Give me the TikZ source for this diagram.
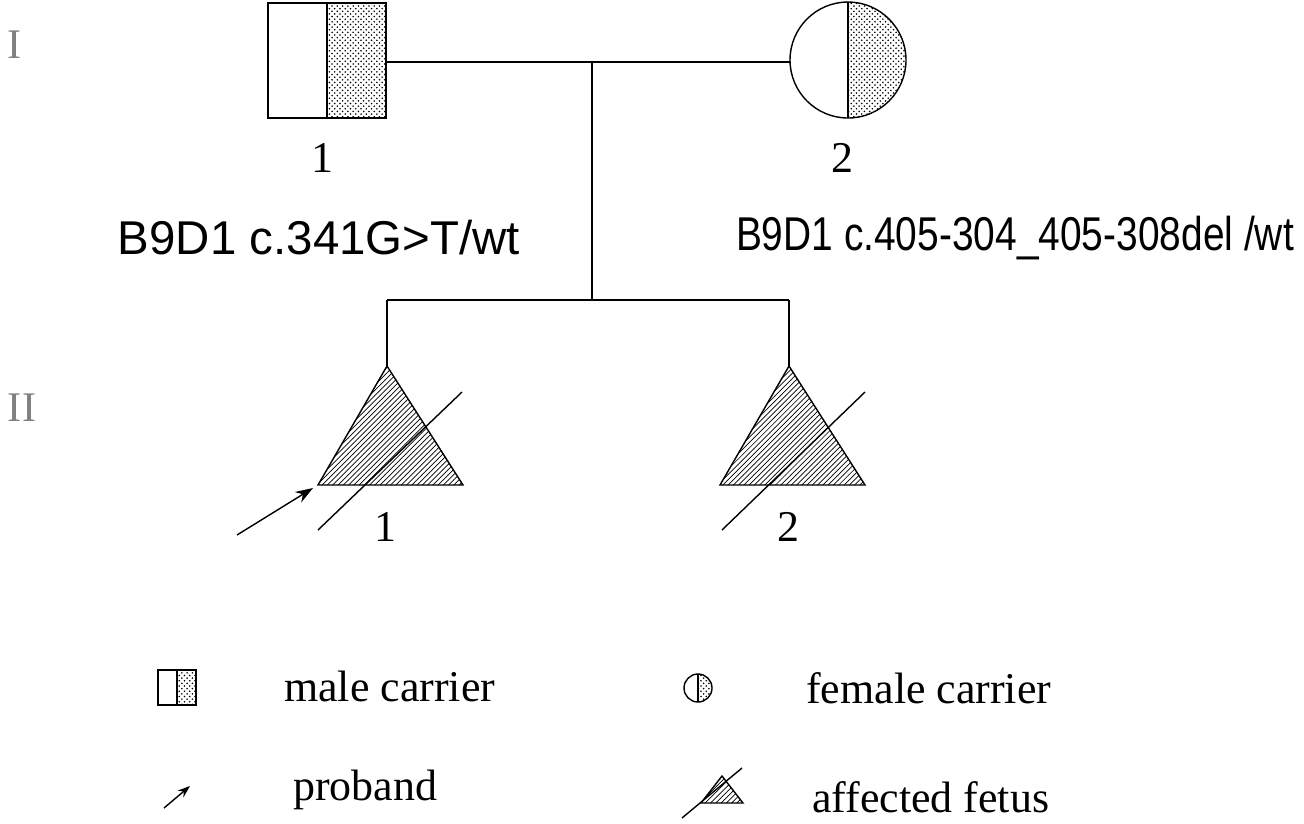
\documentclass[tikz,border=0pt]{standalone}
\usepackage{fontspec}
\usepackage{graphicx}
\setmainfont{Liberation Serif}
\newfontfamily\lsans{Liberation Sans}
\usetikzlibrary{patterns,arrows.meta}
\begin{document}
\begin{tikzpicture}[x=0.02cm,y=-0.02cm,
  ln/.style={line width=1.6pt},
  thin/.style={line width=0.8pt},
  dotfill/.style={pattern=crosshatch dots},
  hatch/.style={pattern=north east lines},
  num/.style={font=\fontsize{25}{27}\selectfont},
  gen/.style={font=\fontsize{24}{26}\selectfont,text=gray},
  geno/.style={font=\lsans\fontsize{27}{29}\selectfont},
  leg/.style={font=\fontsize{25}{27}\selectfont,anchor=west}]
\useasboundingbox (0,0) rectangle (1304,823);
\node[gen] (gI) at (15,45) {I};
\node[gen] (gII) at (22,408) {II};
% father
\path[dotfill] (327,3) rectangle (386,118);
\draw[thin] (268,3) rectangle (386,118);
\draw[thin] (327,3) -- (327,118);
\coordinate (fR) at (386,62);
% mother
\begin{scope}
\clip (848,0) rectangle (910,122);
\path[dotfill] (848,60) circle[radius=58];
\end{scope}
\draw[thin] (848,60) circle[radius=58];
\draw[thin] (848,2) -- (848,118);
\coordinate (mL) at (790,62);
\draw[ln] (fR) -- (mL);
\coordinate (m) at (592,62);
\coordinate (s) at (592,300);
\draw[ln] (m) -- (s);
\coordinate (c1) at (387,300);
\coordinate (c2) at (789,300);
\draw[ln] (c1) -- (c2);
\coordinate (t1) at (387,366);
\coordinate (t2) at (789,366);
\draw[ln] (c1) -- (t1);
\draw[ln] (c2) -- (t2);
% triangles
\draw[thin,hatch] (t1) -- (463,485) -- (318,485) -- cycle;
\draw[thin] (318,530) -- (462,392);
\draw[thin,hatch] (t2) -- (865,485) -- (720,485) -- cycle;
\draw[thin] (722,530) -- (865,392);
\draw[thin,-{Stealth[length=10pt,width=7pt]}] (237,535) -- (313,488);
% labels
\node[num] (n1) at (322,158) {1};
\node[num] (n2) at (842,158) {2};
\node[num] (n3) at (385,527) {1};
\node[num] (n4) at (788,527) {2};
\node[geno] (g1) at (319,238) {B9D1 c.341G>T/wt};
\node[geno] (g2) at (1015,238) {\scalebox{0.82}[1]{B9D1 c.405-304\_405-308del /wt}};
% legend
\path[dotfill] (177,670) rectangle (196,705);
\draw[thin] (158,670) rectangle (196,705);
\draw[thin] (177,670) -- (177,705);
\node[leg] (l1) at (278,686) {male carrier};
\begin{scope}
\clip (698,670) rectangle (715,706);
\path[dotfill] (698,688) circle[radius=14];
\end{scope}
\draw[thin] (698,688) circle[radius=14];
\draw[thin] (698,674) -- (698,702);
\node[leg] (l2) at (800,688) {female carrier};
\draw[thin,-{Stealth[length=7pt,width=5pt]}] (164,808) -- (190,786);
\node[leg] (l3) at (287,790) {proband};
\draw[thin,hatch] (722,776) -- (743,803) -- (701,803) -- cycle;
\draw[thin] (682,818) -- (742,768);
\node[leg] (l4) at (806,797) {affected fetus};
\end{tikzpicture}
\end{document}
